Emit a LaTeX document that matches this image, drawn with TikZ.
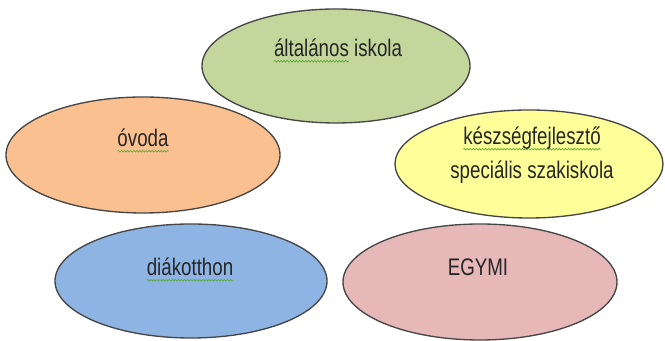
\documentclass[tikz,border=0pt]{standalone}
\usepackage{fontspec}
\newfontfamily\lblfont{Liberation Sans}[FakeStretch=0.78]
\usetikzlibrary{shapes.geometric,decorations.pathmorphing}
\definecolor{rimgray}{RGB}{70,70,70}
\definecolor{fillgreen}{RGB}{195,214,155}
\definecolor{fillorange}{RGB}{250,192,144}
\definecolor{fillyellow}{RGB}{255,255,153}
\definecolor{fillblue}{RGB}{142,180,227}
\definecolor{fillpink}{RGB}{230,185,184}
\definecolor{squiggreen}{RGB}{90,170,50}
\tikzset{
  bubble/.style={ellipse,draw=rimgray,line width=1pt,inner sep=0pt},
  lbl/.style={font=\lblfont\fontsize{18pt}{25pt}\selectfont,text=black!85,align=center,inner sep=0pt},
  squig/.style={draw=squiggreen,line width=0.5pt,decorate,
    decoration={snake,amplitude=0.6pt,segment length=2.3pt}}
}
\newcommand\wavy[1]{\tikz[baseline=(w.base)]{\node[inner sep=0pt,outer sep=0pt] (w) {#1};
  \draw[squig,overlay] ([yshift=-3.4pt]w.base west) -- ([yshift=-3.4pt]w.base east);}}
\begin{document}
\begin{tikzpicture}[x=0.75pt,y=0.75pt]
	\useasboundingbox (0,0) rectangle (665,341);
	% ellipses
	\node [bubble,fill=fillgreen,minimum width=201pt,minimum height=85.5pt] (iskola) at (336,275) {};
	\node [bubble,fill=fillorange,minimum width=205.5pt,minimum height=87pt] (ovoda) at (143,186) {};
	\node [bubble,fill=fillyellow,minimum width=201pt,minimum height=81pt] (szakiskola) at (529,177) {};
	\node [bubble,fill=fillblue,minimum width=204pt,minimum height=85.5pt] (kollegium) at (191,60) {};
	\node [bubble,fill=fillpink,minimum width=205.5pt,minimum height=87pt] (egymi) at (480,59) {};
	% labels
	\node [lbl] (iskolaT) at (338,293) {\wavy{általános} iskola};
	\node [lbl] (ovodaT) at (143,203) {\wavy{óvoda}};
	\node [lbl] (szakiskolaT) at (532,186) {\wavy{készségfejlesztő}\\speciális szakiskola};
	\node [lbl] (kollegiumT) at (190,74) {\wavy{diákotthon}};
	\node [lbl] (egymiT) at (478,74) {EGYMI};
\end{tikzpicture}
\end{document}
